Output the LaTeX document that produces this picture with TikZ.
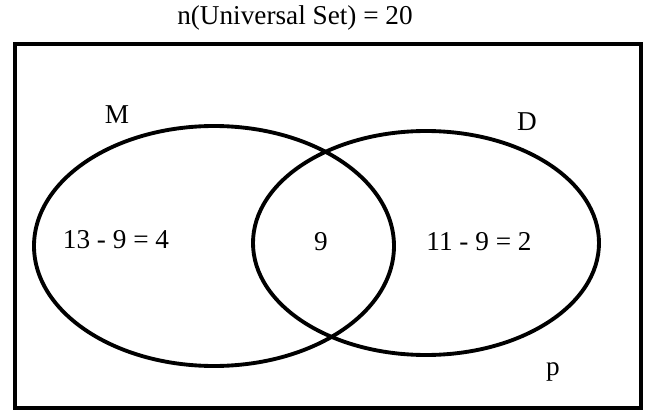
\documentclass[tikz,border=0pt]{standalone}
\usepackage{fontspec}
\setmainfont{Liberation Serif}
\begin{document}
\begin{tikzpicture}[x=0.02cm,y=-0.02cm,
  shp/.style={draw=black,line width=2.2pt},
  lbl/.style={font=\fontsize{15.5}{17}\selectfont,inner sep=0pt}]
\useasboundingbox (0,0) rectangle (657,419);
\draw[shp] (15,44) rectangle (641,408);
\draw[shp] (214,246) ellipse [x radius=180, y radius=120];
\draw[shp] (426,243) ellipse [x radius=173, y radius=112];
\node[lbl] (title) at (295,18) {n(Universal Set) = 20};
\node[lbl] (m) at (117,115) {M};
\node[lbl] (d) at (527,122) {D};
\node[lbl] (a) at (116,240) {13 - 9 = 4};
\node[lbl] (b) at (321,242) {9};
\node[lbl] (c) at (479,242) {11 - 9 = 2};
\node[lbl] (p) at (553,372) {p};
\end{tikzpicture}
\end{document}
